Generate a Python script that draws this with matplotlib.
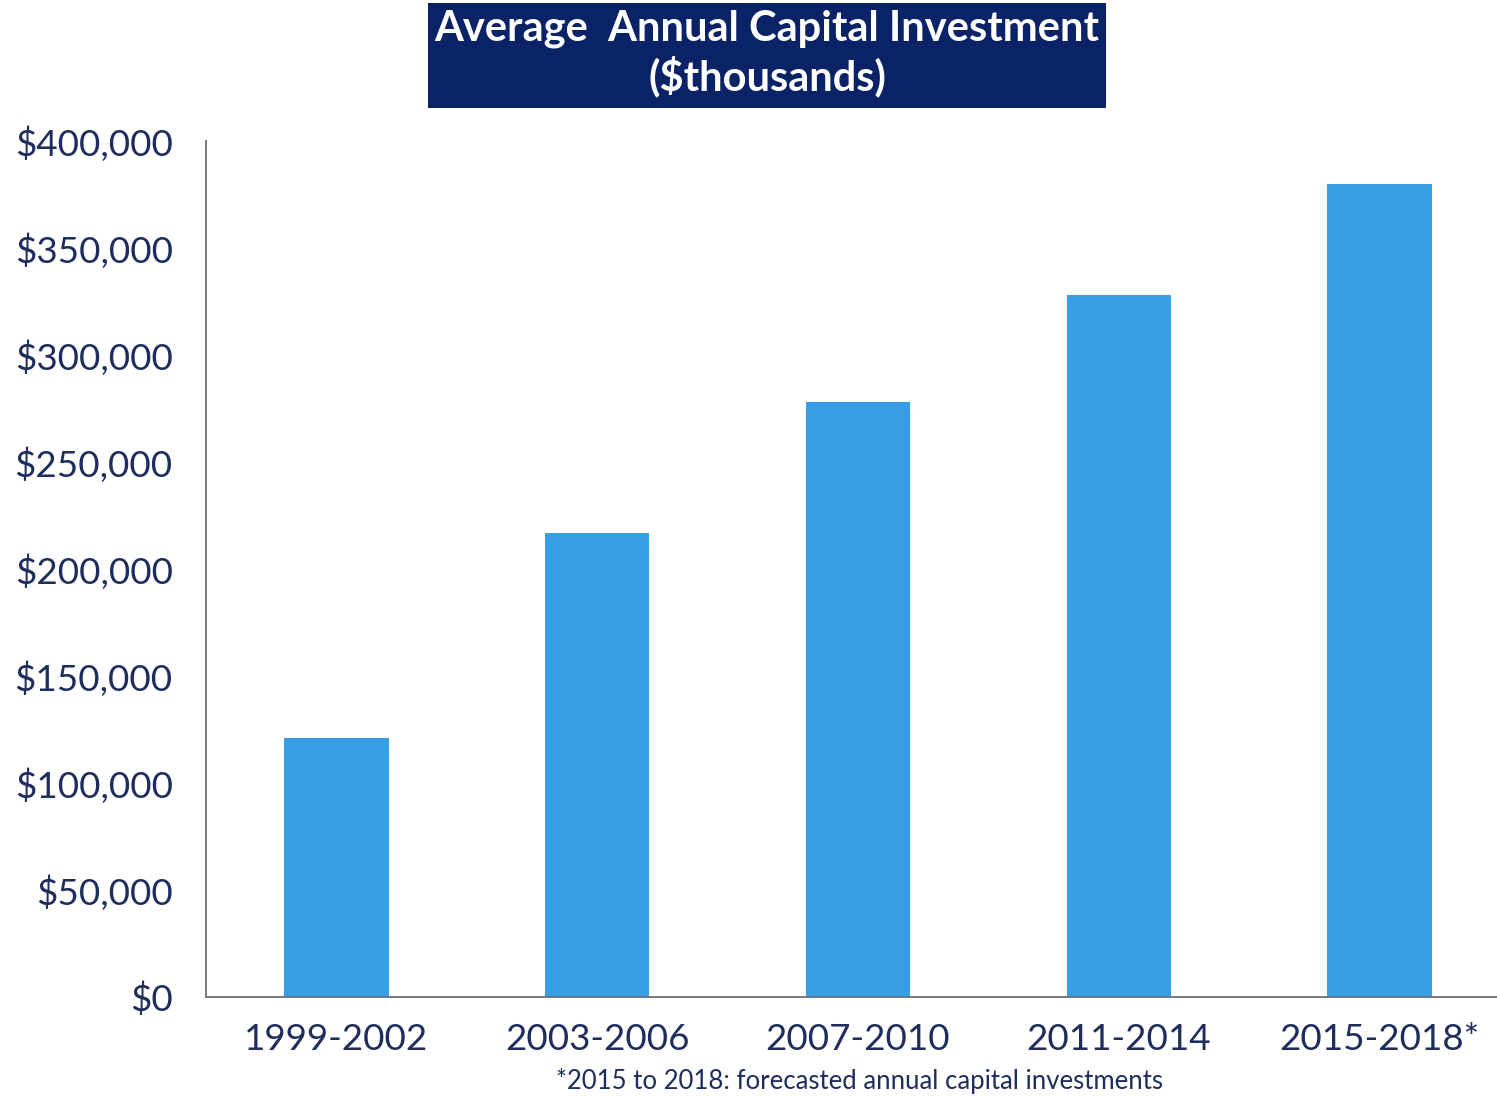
import matplotlib
matplotlib.use("Agg")
import matplotlib.pyplot as plt
from matplotlib.ticker import FuncFormatter
from matplotlib.patches import Rectangle

categories = ["1999-2002", "2003-2006", "2007-2010", "2011-2014", "2015-2018*"]
values = [121000, 217000, 278000, 328000, 380000]
yticks = [0, 50000, 100000, 150000, 200000, 250000, 300000, 350000, 400000]

title = "Average  Annual Capital Investment\n($thousands)"
footnote = "*2015 to 2018: forecasted annual capital investments"

bar_color = "#379EE6"
text_color = "#1E2D5C"
navy = "#0A2266"

plt.rcParams['font.family'] = ['Lato', 'DejaVu Sans']

fig = plt.figure(figsize=(14.97, 10.96), dpi=100)
ax = fig.add_axes([206/1497, 1-997/1096, 1-206/1497, (997-141)/1096])

x = list(range(len(categories)))
ax.bar(x, values, width=0.4, color=bar_color)
ax.set_xlim(-0.5, 4.45)
ax.set_ylim(0, 400000)
ax.set_yticks(yticks)
ax.yaxis.set_major_formatter(FuncFormatter(lambda v, p: "${:,.0f}".format(v)))
ax.set_xticks(x)
ax.set_xticklabels(categories)
ax.tick_params(axis='y', length=0, pad=24, labelsize=26.5, labelcolor=text_color)
ax.tick_params(axis='x', length=0, pad=19, labelsize=26.5, labelcolor=text_color)
for s in ["top", "right"]:
    ax.spines[s].set_visible(False)
for s in ["left", "bottom"]:
    ax.spines[s].set_color("#6B6F78")
    ax.spines[s].set_linewidth(1.3)

# Title box
fig.patches.append(Rectangle((428/1497, 1-108/1096), (1106-428)/1497, (108-3)/1096,
                             transform=fig.transFigure, facecolor=navy, edgecolor='none'))
fig.text(767/1497, 1-53/1096, title, ha='center', va='center', color='white',
         fontsize=30, fontweight='bold', linespacing=1.22)

fig.text(859/1497, 1-1081/1096, footnote, ha='center', va='center',
         color=text_color, fontsize=18.5)

fig.savefig("out.png", dpi=100, facecolor='white')
